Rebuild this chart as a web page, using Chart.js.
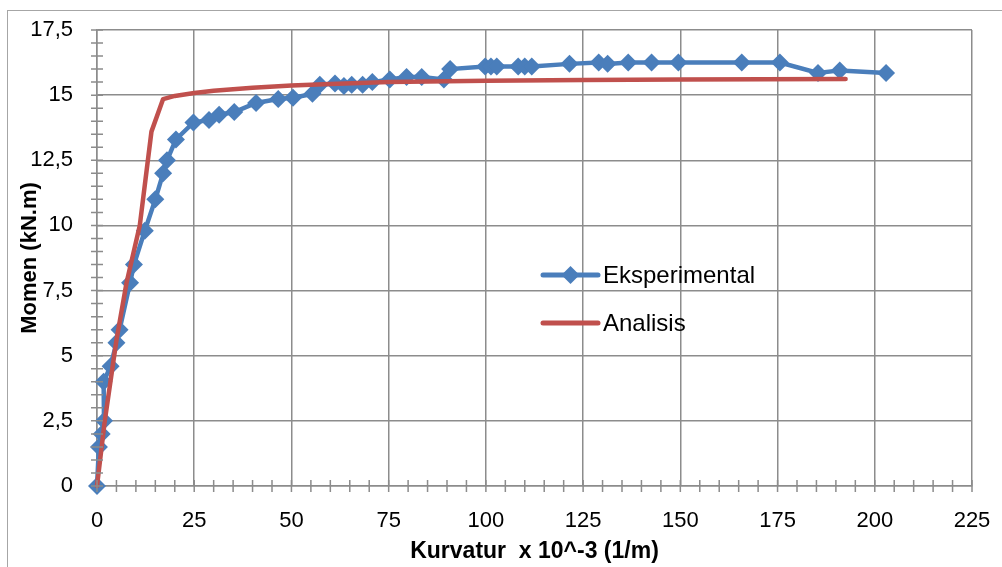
<!DOCTYPE html>
<html>
<head>
<meta charset="utf-8">
<script src="https://cdn.jsdelivr.net/npm/chart.js@4.4.1/dist/chart.umd.min.js"></script>
<style>
  html, body { margin: 0; padding: 0; background: #fff; }
  #wrap { position: relative; width: 1002px; height: 567px; overflow: hidden; }
  #frame { position: absolute; left: 7px; top: 10px; width: 1100px; height: 700px; border: 1px solid #a6a6a6; }
  canvas { position: absolute; left: 0; top: 0; }
</style>
</head>
<body>
<div id="wrap">
  <div id="frame"></div>
  <canvas id="chart" width="1002" height="567"></canvas>
</div>
<script>
// Eksperimental data
const expX = [0, 0.5, 1.2, 1.8, 1.7, 3.5, 5, 5.8, 8.5, 9.5, 12.3, 15, 17, 18, 20.3, 24.8, 28.8, 31.4, 35.3, 40.9, 46.6, 50.4, 55.4, 57.3, 61.2, 63.5, 65.5, 68.3, 70.8, 75.3, 79.6, 83.5, 89.2, 90.8, 99.8, 101.3, 102.8, 108.3, 110, 111.8, 121.5, 129, 131.3, 136.6, 142.6, 149.5, 165.8, 175.6, 185.4, 191, 202.9];
const expY = [0, 1.5, 2.0, 2.5, 4.0, 4.6, 5.5, 6.0, 7.8, 8.5, 9.8, 11.0, 12.0, 12.5, 13.3, 13.95, 14.05, 14.25, 14.35, 14.7, 14.85, 14.9, 15.05, 15.4, 15.45, 15.35, 15.4, 15.4, 15.5, 15.6, 15.7, 15.7, 15.6, 16.0, 16.1, 16.1, 16.1, 16.1, 16.1, 16.1, 16.2, 16.25, 16.2, 16.25, 16.25, 16.25, 16.25, 16.25, 15.85, 15.95, 15.85];

// Analisis data
const anaX = [0, 2, 5, 7.6, 11, 14, 17, 20, 25, 30, 40, 50, 60, 75, 100, 125, 150, 192.5];
const anaY = [0, 2.5, 5.6, 7.8, 10, 13.6, 14.85, 14.97, 15.08, 15.17, 15.28, 15.37, 15.43, 15.5, 15.55, 15.58, 15.6, 15.62];

const xTicks = [0, 25, 50, 75, 100, 125, 150, 175, 200, 225];
const yTicks = [0, 2.5, 5, 7.5, 10, 12.5, 15, 17.5];

const FONT = "'Liberation Sans', Arial, sans-serif";
const GRID = "#8c8c8c";

const toPoints = (xs, ys) => xs.map((x, i) => ({ x: x, y: ys[i] }));

// cross-style minor tick marks on both axes
const crossTicks = {
  id: "crossTicks",
  afterDraw(chart) {
    const ctx = chart.ctx;
    const xs = chart.scales.x, ys = chart.scales.y;
    const ca = chart.chartArea;
    ctx.save();
    ctx.strokeStyle = GRID;
    ctx.lineWidth = 1.5;
    ctx.beginPath();
    for (let v = 0; v <= 225; v += 5) {
      const px = xs.getPixelForValue(v);
      ctx.moveTo(px, ca.bottom - 6);
      ctx.lineTo(px, ca.bottom + 6);
    }
    for (let v = 0; v <= 17.5 + 1e-6; v += 0.5) {
      const py = ys.getPixelForValue(v);
      ctx.moveTo(ca.left - 6, py);
      ctx.lineTo(ca.left + 6, py);
    }
    ctx.stroke();
    ctx.restore();
  }
};

// legend drawn inside the plot
const innerLegend = {
  id: "innerLegend",
  afterDraw(chart) {
    const ctx = chart.ctx;
    ctx.save();
    const items = chart.data.datasets;
    const x0 = 543, x1 = 598, rows = [275, 323];
    items.forEach((ds, i) => {
      const y = rows[i];
      ctx.strokeStyle = ds.borderColor;
      ctx.lineWidth = 5;
      ctx.lineCap = "round";
      ctx.beginPath();
      ctx.moveTo(x0, y);
      ctx.lineTo(x1, y);
      ctx.stroke();
      if (ds.pointRadius > 0) {
        const r = 9, cx = (x0 + x1) / 2;
        ctx.fillStyle = ds.backgroundColor;
        ctx.beginPath();
        ctx.moveTo(cx, y - r);
        ctx.lineTo(cx + r, y);
        ctx.lineTo(cx, y + r);
        ctx.lineTo(cx - r, y);
        ctx.closePath();
        ctx.fill();
      }
      ctx.fillStyle = "#000";
      ctx.font = "24px " + FONT;
      ctx.textBaseline = "middle";
      ctx.fillText(ds.label, x1 + 5, y + 1);
    });
    ctx.restore();
  }
};

new Chart(document.getElementById("chart"), {
  type: "line",
  data: {
    datasets: [
      {
        label: "Eksperimental",
        data: toPoints(expX, expY),
        borderColor: "#4a7ebb",
        backgroundColor: "#4a7ebb",
        borderWidth: 4.5,
        pointStyle: "rectRot",
        pointRadius: 9,
        pointBorderWidth: 0,
        tension: 0,
        clip: false,
        order: 1
      },
      {
        label: "Analisis",
        data: toPoints(anaX, anaY),
        borderColor: "#c0504d",
        backgroundColor: "#c0504d",
        borderWidth: 4.5,
        pointRadius: 0,
        borderCapStyle: "round",
        borderJoinStyle: "round",
        tension: 0,
        clip: false,
        order: 0
      }
    ]
  },
  options: {
    responsive: false,
    animation: false,
    layout: { padding: { left: 0, top: 30, right: 30, bottom: 0 } },
    plugins: {
      legend: { display: false },
      tooltip: { enabled: false }
    },
    scales: {
      x: {
        type: "linear",
        min: 0,
        max: 225,
        afterBuildTicks: s => { s.ticks = xTicks.map(v => ({ value: v })); },
        afterFit: s => { s.height = 81; s.paddingLeft = 0; s.paddingRight = 0; },
        grid: { color: GRID, lineWidth: 1.5, drawTicks: false },
        border: { color: GRID, width: 1.5 },
        ticks: { color: "#000", font: { family: FONT, size: 22 }, padding: 22, maxRotation: 0 },
        title: {
          display: true,
          text: "Kurvatur  x 10^-3 (1/m)",
          color: "#000",
          font: { family: FONT, size: 23, weight: "bold" },
          padding: { top: 0, bottom: 2 }
        }
      },
      y: {
        min: 0,
        max: 17.5,
        afterBuildTicks: s => { s.ticks = yTicks.map(v => ({ value: v })); },
        afterFit: s => { s.width = 97; s.paddingTop = 0; s.paddingBottom = 0; },
        grid: { color: GRID, lineWidth: 1.5, drawTicks: false },
        border: { color: GRID, width: 1.5 },
        ticks: {
          color: "#000",
          font: { family: FONT, size: 22 },
          padding: 24,
          callback: v => String(v).replace(".", ",")
        },
        title: {
          display: true,
          text: "Momen (kN.m)",
          color: "#000",
          font: { family: FONT, size: 22, weight: "bold" },
          padding: { top: 17, bottom: 0 }
        }
      }
    }
  },
  plugins: [crossTicks, innerLegend]
});
</script>
</body>
</html>
